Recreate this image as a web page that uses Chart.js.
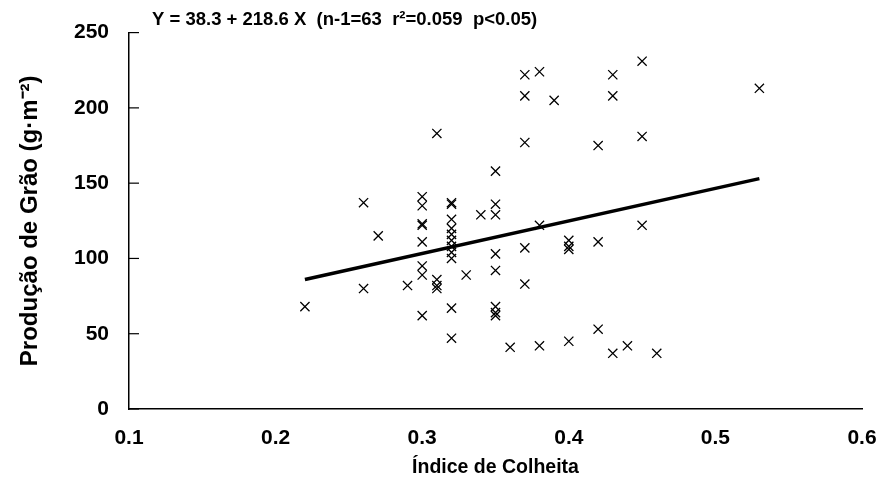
<!DOCTYPE html>
<html>
<head>
<meta charset="utf-8">
<script src="https://cdn.jsdelivr.net/npm/chart.js@4.4.1/dist/chart.umd.min.js"></script>
<style>
  html, body { margin: 0; padding: 0; background: #fff; }
  #wrap { width: 883px; height: 481px; }
</style>
</head>
<body>
<div id="wrap"><canvas id="scatterChart" width="883" height="481"></canvas></div>
<script>
// Índice de colheita (x) e produção de grão (y)
const indiceColheita = [
  0.22, 0.26, 0.26, 0.27, 0.29,
  0.30, 0.30, 0.30, 0.30, 0.30, 0.30, 0.30, 0.30,
  0.31, 0.31, 0.31, 0.31,
  0.32, 0.32, 0.32, 0.32, 0.32, 0.32, 0.32, 0.32, 0.32, 0.32, 0.32,
  0.33, 0.34,
  0.35, 0.35, 0.35, 0.35, 0.35, 0.35, 0.35, 0.35,
  0.36,
  0.37, 0.37, 0.37, 0.37, 0.37,
  0.38, 0.38, 0.38, 0.39,
  0.40, 0.40, 0.40, 0.40,
  0.42, 0.42, 0.42,
  0.43, 0.43, 0.43, 0.44,
  0.45, 0.45, 0.45, 0.46, 0.53
];
const producaoGrao = [
  68, 137, 80, 115, 82,
  141, 135, 123, 122, 111, 95, 89, 62,
  183, 86, 82, 80,
  137, 136, 126, 120, 116, 112, 108, 104, 100, 67, 47,
  89, 129,
  158, 136, 129, 103, 92, 68, 64, 62,
  41,
  222, 208, 177, 107, 83,
  224, 122, 42, 205,
  112, 108, 106, 45,
  175, 111, 53,
  222, 208, 37, 42,
  231, 181, 122, 37, 213
];
// reta de regressão: extremos
const retaX = [0.22, 0.53];
const retaY = [86, 153];

const xTicks = [0.1, 0.2, 0.3, 0.4, 0.5, 0.6];
const yTicks = [0, 50, 100, 150, 200, 250];
const equacao = 'Y = 38.3 + 218.6 X  (n-1=63  r²=0.059  p<0.05)';

const FONT = 'Liberation Sans, Arial, sans-serif';

// pontos {x,y}
const pontos = indiceColheita.map((x, i) => ({ x: x, y: producaoGrao[i] }));
const reta = retaX.map((x, i) => ({ x: x, y: retaY[i] }));

// desenha equação e marcas internas do eixo y
const extras = {
  id: 'extras',
  afterDraw(chart) {
    const ctx = chart.ctx;
    const ys = chart.scales.y;
    const area = chart.chartArea;
    ctx.save();
    ctx.strokeStyle = '#000';
    ctx.lineWidth = 1.2;
    yTicks.forEach(v => {
      const py = ys.getPixelForValue(v);
      ctx.beginPath();
      ctx.moveTo(area.left, py);
      ctx.lineTo(area.left + 10, py);
      ctx.stroke();
    });
    ctx.fillStyle = '#000';
    ctx.font = 'bold 18.5px ' + FONT;
    ctx.textBaseline = 'middle';
    ctx.textAlign = 'left';
    ctx.fillText(equacao, 152, 20);
    ctx.restore();
  }
};

const ctx = document.getElementById('scatterChart').getContext('2d');
new Chart(ctx, {
  type: 'scatter',
  data: {
    datasets: [
      {
        label: 'Observado',
        data: pontos,
        pointStyle: 'crossRot',
        pointRadius: 6.5,
        pointBorderWidth: 1.3,
        borderColor: '#000',
        backgroundColor: '#000'
      },
      {
        label: 'Regressão',
        type: 'line',
        data: reta,
        borderColor: '#000',
        borderWidth: 3.5,
        pointRadius: 0,
        fill: false
      }
    ]
  },
  options: {
    responsive: false,
    animation: false,
    layout: { padding: { top: 30, right: 21, left: 0, bottom: 0 } },
    plugins: {
      legend: { display: false },
      tooltip: { enabled: false }
    },
    scales: {
      x: {
        type: 'linear',
        min: 0.1,
        max: 0.6,
        afterBuildTicks: s => { s.ticks = xTicks.map(v => ({ value: v })); },
        afterFit: s => { s.height = 72; s.paddingRight = 0; s.paddingLeft = 0; },
        grid: { display: false, drawTicks: false },
        border: { display: true, color: '#000', width: 1.5 },
        ticks: {
          color: '#000',
          padding: 17,
          font: { family: FONT, size: 21, weight: 'bold' },
          callback: v => v.toFixed(1)
        },
        title: {
          display: true,
          text: 'Índice de Colheita',
          color: '#000',
          font: { family: FONT, size: 19.5, weight: 'bold' },
          padding: { top: 0, bottom: 2 }
        }
      },
      y: {
        min: 0,
        max: 250,
        afterBuildTicks: s => { s.ticks = yTicks.map(v => ({ value: v })); },
        afterFit: s => { s.width = 129; },
        grid: { display: false, drawTicks: false },
        border: { display: true, color: '#000', width: 1.5 },
        ticks: {
          color: '#000',
          padding: 20,
          font: { family: FONT, size: 21, weight: 'bold' }
        },
        title: {
          display: true,
          text: 'Produção de Grão (g·m⁻²)',
          color: '#000',
          font: { family: FONT, size: 24, weight: 'bold' },
          padding: { top: 16, bottom: 0 }
        }
      }
    }
  },
  plugins: [extras]
});
</script>
</body>
</html>
